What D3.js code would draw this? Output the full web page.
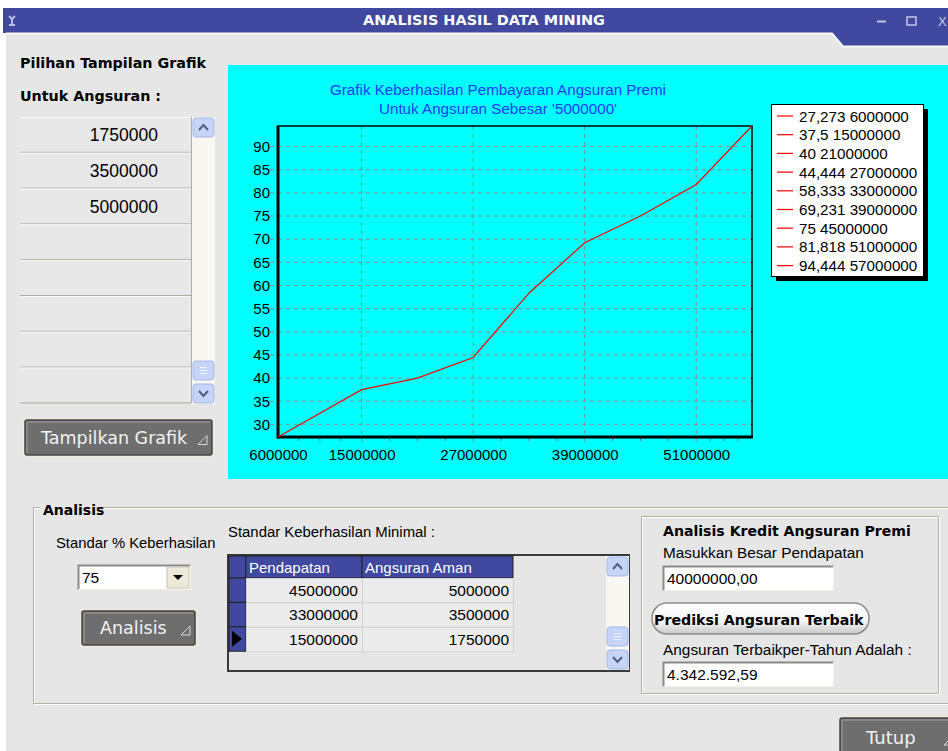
<!DOCTYPE html>
<html>
<head>
<meta charset="utf-8">
<script src="https://cdn.jsdelivr.net/npm/d3@7"></script>
<style>
  html, body { margin: 0; padding: 0; background: #fff; }
  svg { display: block; font-family: "Liberation Sans", Arial, sans-serif; }
  .hd { font-family: "DejaVu Sans", sans-serif; font-weight: bold; }
</style>
</head>
<body>
<svg id="win" width="948" height="751"></svg>
<script>
// chart data
const incomes = [6000000, 15000000, 21000000, 27000000, 33000000, 39000000, 45000000, 51000000, 57000000];
const successPct = [27.273, 37.5, 40, 44.444, 58.333, 69.231, 75, 81.818, 94.444];
const yTicks = [30, 35, 40, 45, 50, 55, 60, 65, 70, 75, 80, 85, 90];
const xTicks = [6000000, 15000000, 27000000, 39000000, 51000000];
const chartTitle = ['Grafik Keberhasilan Pembayaran Angsuran Premi', "Untuk Angsuran Sebesar '5000000'"];

// form data
const installmentOptions = ['1750000', '3500000', '5000000', '', '', '', '', ''];
const gridColumns = ['Pendapatan', 'Angsuran Aman'];
const gridIncome = [45000000, 33000000, 15000000];
const gridSafe = [5000000, 3500000, 1750000];

const BLUE = '#4048a0';
const BODY = '#e6e6e6';
const svg = d3.select('#win');

// ---- window frame ----
svg.append('rect').attr('x', 6).attr('y', 33).attr('width', 942).attr('height', 718).attr('fill', BODY);
svg.append('rect').attr('x', 3).attr('y', 8).attr('width', 945).attr('height', 25).attr('fill', BLUE);
svg.append('path').attr('d', 'M832,32 L843,46 L948,46 L948,32 Z').attr('fill', BLUE);
svg.append('path').attr('d', 'M6,33.5 L832,33.5 L843,46.5 L948,46.5').attr('fill', 'none').attr('stroke', '#fafafa').attr('stroke-width', 2);
svg.append('text').attr('class', 'hd').attr('x', 363).attr('y', 25)
  .attr('fill', '#fff').attr('font-size', 13.5).attr('textLength', 242).attr('lengthAdjust', 'spacingAndGlyphs')
  .text('ANALISIS HASIL DATA MINING');
svg.append('path').attr('d', 'M9,16 L12,19 L15,16 M12,19 L12,25 M9,25 L15,25')
  .attr('stroke', '#b8bce0').attr('stroke-width', 2).attr('fill', 'none');
svg.append('line').attr('x1', 877).attr('x2', 886).attr('y1', 21.5).attr('y2', 21.5).attr('stroke', '#c4c6e6').attr('stroke-width', 2);
svg.append('rect').attr('x', 907).attr('y', 17).attr('width', 9).attr('height', 8).attr('fill', 'none').attr('stroke', '#c4c6e6').attr('stroke-width', 1.5);
svg.append('text').attr('x', 938).attr('y', 26).attr('fill', '#c4c6e6').attr('font-size', 13).text('X');

// ---- helpers ----
function bevelButton(x, y, w, h, label, fs, tx) {
  const g = svg.append('g');
  g.append('rect').attr('x', x - 2).attr('y', y - 2).attr('width', w + 4).attr('height', h + 4).attr('fill', '#f0ebd8').attr('rx', 2);
  g.append('rect').attr('x', x).attr('y', y).attr('width', w).attr('height', h).attr('rx', 2)
    .attr('fill', '#6e6e6e').attr('stroke', '#454545').attr('stroke-width', 1.5);
  g.append('path').attr('d', `M${x + 2},${y + h - 2} L${x + 2},${y + 2} L${x + w - 2},${y + 2}`)
    .attr('stroke', '#a0a0a0').attr('fill', 'none');
  g.append('text').attr('x', tx).attr('y', y + h / 2 + fs * 0.36).attr('fill', '#f2f2f2')
    .attr('font-size', fs).attr('font-family', 'DejaVu Sans, sans-serif').text(label);
  const t = x + w - 14, b = y + h / 2 + 7;
  g.append('path').attr('d', `M${t},${b} L${t + 9},${b} L${t + 9},${b - 9} Z`)
    .attr('fill', 'none').attr('stroke', '#d8d8d8').attr('stroke-width', 1);
  return g;
}

function sunkenBox(x, y, w, h, value) {
  svg.append('rect').attr('x', x).attr('y', y).attr('width', w).attr('height', h).attr('fill', '#fff');
  svg.append('path').attr('d', `M${x + 0.5},${y + h} L${x + 0.5},${y + 0.5} L${x + w},${y + 0.5}`).attr('stroke', '#8a8a8a').attr('fill', 'none').attr('stroke-width', 2);
  svg.append('path').attr('d', `M${x},${y + h - 0.5} L${x + w - 0.5},${y + h - 0.5} L${x + w - 0.5},${y}`).attr('stroke', '#f4f0e0').attr('fill', 'none');
  if (value) svg.append('text').attr('x', x + 4).attr('y', y + h - 7).attr('font-size', 15.5).attr('fill', '#000').text(value);
}

function etchedBox(x, y, w, h) {
  svg.append('rect').attr('x', x + 1.5).attr('y', y + 1.5).attr('width', w).attr('height', h).attr('fill', 'none').attr('stroke', '#fff');
  svg.append('rect').attr('x', x + 0.5).attr('y', y + 0.5).attr('width', w).attr('height', h).attr('fill', 'none').attr('stroke', '#b4b0a4');
}

function scrollBar(x, y, h, thumbY) {
  svg.append('rect').attr('x', x).attr('y', y).attr('width', 23).attr('height', h).attr('fill', '#f8f7f1');
  const btn = (by, kind) => {
    svg.append('rect').attr('x', x + 1).attr('y', by).attr('width', 21).attr('height', 19).attr('rx', 3)
      .attr('fill', '#c6d4f7').attr('stroke', '#a6b8e8');
    if (kind === 'up') svg.append('path').attr('d', `M${x + 7},${by + 12} L${x + 11.5},${by + 7} L${x + 16},${by + 12}`).attr('stroke', '#4d6185').attr('stroke-width', 2).attr('fill', 'none');
    else if (kind === 'down') svg.append('path').attr('d', `M${x + 7},${by + 7} L${x + 11.5},${by + 12} L${x + 16},${by + 7}`).attr('stroke', '#4d6185').attr('stroke-width', 2).attr('fill', 'none');
    else [0, 3, 6].forEach(d => svg.append('line').attr('x1', x + 8).attr('x2', x + 15).attr('y1', by + 6.5 + d).attr('y2', by + 6.5 + d).attr('stroke', '#eef2ff'));
  };
  btn(y + 1, 'up');
  btn(thumbY, 'thumb');
  btn(y + h - 20, 'down');
}

// ---- left panel ----
svg.append('text').attr('class', 'hd').attr('x', 20).attr('y', 68).attr('font-size', 14.3).text('Pilihan Tampilan Grafik');
svg.append('text').attr('class', 'hd').attr('x', 20).attr('y', 101).attr('font-size', 14.3).text('Untuk Angsuran :');

const rowH = 35.8;
installmentOptions.forEach((v, i) => {
  const y = 117 + i * rowH;
  svg.append('rect').attr('x', 20).attr('y', y).attr('width', 171).attr('height', rowH).attr('fill', '#e8e8e8');
  svg.append('line').attr('x1', 20).attr('x2', 191).attr('y1', y + 0.5).attr('y2', y + 0.5).attr('stroke', '#f8f8f8');
  svg.append('line').attr('x1', 20).attr('x2', 191).attr('y1', y + rowH - 0.5).attr('y2', y + rowH - 0.5).attr('stroke', '#b0aca0');
  if (v) svg.append('text').attr('x', 158).attr('y', y + 24).attr('text-anchor', 'end').attr('font-size', 17.5).text(v);
});
svg.append('line').attr('x1', 191.5).attr('x2', 191.5).attr('y1', 117).attr('y2', 403).attr('stroke', '#b0aca0');
scrollBar(192, 117, 287, 361);

bevelButton(25, 420, 187, 35, 'Tampilkan Grafik', 17.5, 41);

// ---- chart ----
svg.append('rect').attr('x', 228).attr('y', 65).attr('width', 720).attr('height', 414).attr('fill', '#00ffff');

const plot = { left: 278, right: 752, top: 126, bottom: 437 };
const x = d3.scaleLinear().domain(d3.extent(incomes)).range([plot.left, plot.right]);
const y = d3.scaleLinear().domain(d3.extent(successPct)).range([plot.bottom, plot.top]);

chartTitle.forEach((t, i) => {
  svg.append('text').attr('x', 498).attr('y', 95 + i * 19).attr('text-anchor', 'middle')
    .attr('fill', '#1e3cff').attr('font-size', 15.2).text(t);
});

// gridlines
svg.append('g').selectAll('line').data(yTicks).join('line')
  .attr('x1', plot.left - 8).attr('x2', plot.right).attr('y1', d => y(d)).attr('y2', d => y(d))
  .attr('stroke', '#8c8c8c').attr('stroke-dasharray', '4,4');
svg.append('g').selectAll('line').data(xTicks.slice(1)).join('line')
  .attr('x1', d => x(d)).attr('x2', d => x(d)).attr('y1', plot.top).attr('y2', plot.bottom + 6)
  .attr('stroke', '#8c8c8c').attr('stroke-dasharray', '4,4');

// minor x ticks: 3 between each labelled tick and the axis end
const xEnds = xTicks.concat([d3.max(incomes)]);
const minor = [];
for (let i = 0; i < xEnds.length - 1; i++) {
  for (let k = 1; k < 4; k++) minor.push(xEnds[i] + (xEnds[i + 1] - xEnds[i]) * k / 4);
}
svg.append('g').selectAll('line').data(minor).join('line')
  .attr('x1', d => x(d)).attr('x2', d => x(d)).attr('y1', plot.bottom).attr('y2', plot.bottom + 4)
  .attr('stroke', '#6c7c7c');

// axes
const yAxis = svg.append('g').attr('transform', `translate(${plot.left},0)`)
  .call(d3.axisLeft(y).tickValues(yTicks).tickSize(0).tickPadding(8));
const xAxis = svg.append('g').attr('transform', `translate(0,${plot.bottom})`)
  .call(d3.axisBottom(x).tickValues(xTicks).tickFormat(d3.format('d')).tickSize(0).tickPadding(12));
[yAxis, xAxis].forEach(a => {
  a.select('.domain').remove();
  a.selectAll('text').attr('fill', '#000').attr('font-size', 15).attr('font-family', 'Liberation Sans, Arial, sans-serif');
});
xAxis.selectAll('text').attr('dy', '0.71em');

// frame
svg.append('rect').attr('x', plot.left).attr('y', plot.top).attr('width', plot.right - plot.left).attr('height', plot.bottom - plot.top)
  .attr('fill', 'none').attr('stroke', '#000').attr('stroke-width', 1.5);
svg.append('line').attr('x1', plot.left).attr('x2', plot.left).attr('y1', plot.top).attr('y2', plot.bottom + 1.5).attr('stroke', '#000').attr('stroke-width', 3);
svg.append('line').attr('x1', plot.left).attr('x2', plot.right + 1).attr('y1', plot.bottom).attr('y2', plot.bottom).attr('stroke', '#000').attr('stroke-width', 3);

// series line
const pts = incomes.map((v, i) => [v, successPct[i]]);
svg.append('path').datum(pts)
  .attr('fill', 'none').attr('stroke', '#ff0000').attr('stroke-width', 1.2)
  .attr('d', d3.line().x(d => x(d[0])).y(d => y(d[1])));

// legend
const lg = { x: 771, y: 104, w: 152, h: 172 };
svg.append('rect').attr('x', lg.x + 5).attr('y', lg.y + 5).attr('width', lg.w).attr('height', lg.h).attr('fill', '#000');
svg.append('rect').attr('x', lg.x + 0.5).attr('y', lg.y + 0.5).attr('width', lg.w).attr('height', lg.h).attr('fill', '#fff').attr('stroke', '#000');
const fmtPct = v => String(v).replace('.', ',');
const items = svg.append('g').selectAll('g').data(pts).join('g')
  .attr('transform', (d, i) => `translate(${lg.x},${lg.y + 12 + i * 18.7})`);
items.append('line').attr('x1', 6).attr('x2', 22).attr('stroke', '#ff0000').attr('stroke-width', 1.2);
items.append('text').attr('x', 28).attr('y', 5.5).attr('font-size', 15.2).attr('fill', '#000')
  .text(d => `${fmtPct(d[1])} ${d[0]}`);

// ---- Analisis group ----
etchedBox(33, 507, 930, 196);
svg.append('rect').attr('x', 40).attr('y', 500).attr('width', 56).attr('height', 14).attr('fill', BODY);
svg.append('text').attr('class', 'hd').attr('x', 43).attr('y', 515).attr('font-size', 14).text('Analisis');

svg.append('text').attr('x', 56).attr('y', 548).attr('font-size', 14.8).text('Standar % Keberhasilan');
svg.append('text').attr('x', 228).attr('y', 537).attr('font-size', 14.9).text('Standar Keberhasilan Minimal :');

sunkenBox(78, 565, 113, 25, '75');
svg.append('rect').attr('x', 167).attr('y', 567).attr('width', 22).attr('height', 21).attr('fill', '#ece9d8').attr('stroke', '#c8c4b4');
svg.append('path').attr('d', 'M173,575 L183,575 L178,580 Z').attr('fill', '#000');

bevelButton(82, 611, 113, 34, 'Analisis', 17.5, 100);

// data grid
svg.append('rect').attr('x', 228).attr('y', 555).attr('width', 401).attr('height', 116).attr('fill', BODY).attr('stroke', '#3a3a3a').attr('stroke-width', 2);
const colX = [246, 362, 513];
svg.append('rect').attr('x', 229).attr('y', 556).attr('width', 17).attr('height', 22).attr('fill', BLUE).attr('stroke', '#222');
gridColumns.forEach((c, i) => {
  svg.append('rect').attr('x', colX[i]).attr('y', 556).attr('width', colX[i + 1] - colX[i]).attr('height', 22)
    .attr('fill', BLUE).attr('stroke', '#222');
  svg.append('text').attr('x', colX[i] + 3).attr('y', 573).attr('fill', '#fff').attr('font-size', 15).text(c);
});
gridIncome.forEach((inc, r) => {
  const ry = 578 + r * 24.4;
  svg.append('rect').attr('x', 229).attr('y', ry).attr('width', 17).attr('height', 24.4).attr('fill', BLUE).attr('stroke', '#222');
  [inc, gridSafe[r]].forEach((v, i) => {
    svg.append('rect').attr('x', colX[i] + 0.5).attr('y', ry + 0.5).attr('width', colX[i + 1] - colX[i]).attr('height', 24.4)
      .attr('fill', '#ebebeb').attr('stroke', '#d2d2d2');
    svg.append('text').attr('x', colX[i + 1] - 4).attr('y', ry + 18).attr('text-anchor', 'end').attr('font-size', 15.5).text(v);
  });
  if (r === gridIncome.length - 1) svg.append('path').attr('d', `M232,${ry + 4} L242,${ry + 12} L232,${ry + 20} Z`).attr('fill', '#000');
});
scrollBar(606, 556, 114, 627);

// ---- Analisis Kredit group ----
etchedBox(641, 516, 297, 177);
svg.append('text').attr('class', 'hd').attr('x', 663).attr('y', 536).attr('font-size', 14.1).text('Analisis Kredit Angsuran Premi');
svg.append('text').attr('x', 663).attr('y', 558).attr('font-size', 15.3).text('Masukkan Besar Pendapatan');
sunkenBox(663, 566, 171, 25, '40000000,00');

const grad = svg.append('defs').append('linearGradient').attr('id', 'pill').attr('x1', 0).attr('x2', 0).attr('y1', 0).attr('y2', 1);
grad.append('stop').attr('offset', '0%').attr('stop-color', '#ffffff');
grad.append('stop').attr('offset', '60%').attr('stop-color', '#f4f4f4');
grad.append('stop').attr('offset', '100%').attr('stop-color', '#c8c8c8');
svg.append('rect').attr('x', 652).attr('y', 603).attr('width', 217).attr('height', 31).attr('rx', 15)
  .attr('fill', 'url(#pill)').attr('stroke', '#8c8c8c').attr('stroke-width', 1.5);
svg.append('text').attr('class', 'hd').attr('x', 654).attr('y', 625).attr('font-size', 14.2).text('Prediksi Angsuran Terbaik');

svg.append('text').attr('x', 663).attr('y', 655).attr('font-size', 15.4).text('Angsuran Terbaikper-Tahun Adalah :');
sunkenBox(663, 662, 171, 25, '4.342.592,59');

bevelButton(840, 718, 118, 40, 'Tutup', 18, 866);
</script>
</body>
</html>
